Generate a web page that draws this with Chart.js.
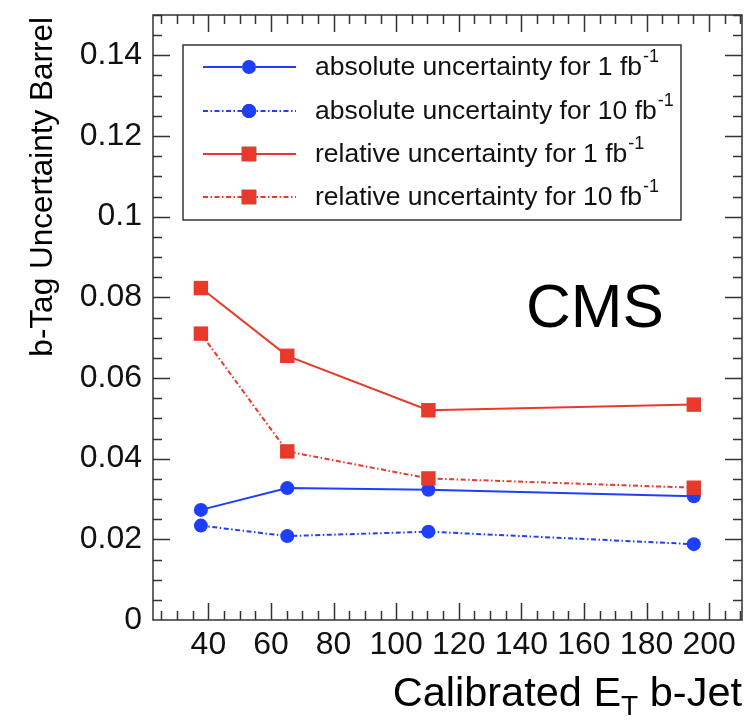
<!DOCTYPE html>
<html>
<head>
<meta charset="utf-8">
<script src="https://cdn.jsdelivr.net/npm/chart.js@4"></script>
<style>
  html, body { margin: 0; padding: 0; background: #fff; }
  #wrap { width: 753px; height: 720px; }
</style>
</head>
<body>
<div id="wrap"><canvas id="c" width="753" height="720"></canvas></div>
<script>
// b-tag uncertainty vs calibrated E_T (barrel)
const etBins      = [37.6, 65.2, 110.3, 195.1];
const absUnc1fb   = [0.0273, 0.0327, 0.0323, 0.0307];
const absUnc10fb  = [0.0234, 0.0208, 0.0219, 0.0188];
const relUnc1fb   = [0.0823, 0.0655, 0.0520, 0.0534];
const relUnc10fb  = [0.0710, 0.0418, 0.0351, 0.0328];

const xTicks = [40, 60, 80, 100, 120, 140, 160, 180, 200];
const yTicks = [0, 0.02, 0.04, 0.06, 0.08, 0.1, 0.12, 0.14];
const yTickLabels = ["0", "0.02", "0.04", "0.06", "0.08", "0.1", "0.12", "0.14"];
const seriesNames = [
  "absolute uncertainty for 1 fb",
  "absolute uncertainty for 10 fb",
  "relative uncertainty for 1 fb",
  "relative uncertainty for 10 fb",
];

const FONT = "'Liberation Sans', Arial, Helvetica, sans-serif";
const BLUE = "#1f3fff";
const RED = "#e8392a";
const DASH = [5, 2.5, 1.5, 2.5];

const pts = (ys) => etBins.map((x, i) => ({ x, y: ys[i] }));

function series(label, ys, color, dashed, style, r, order) {
  return {
    label, data: pts(ys), order,
    borderColor: color, backgroundColor: color,
    borderWidth: 2, borderDash: dashed ? DASH : [],
    pointStyle: style, pointRadius: r, pointHoverRadius: r,
    pointBackgroundColor: color, pointBorderWidth: 0,
    tension: 0, fill: false,
  };
}

// ROOT-like frame: ticks inside on all four sides
const rootFrame = {
  id: "rootFrame",
  beforeDatasetsDraw(chart) {
    const { ctx, chartArea: a, scales: { x, y } } = chart;
    ctx.save();
    ctx.strokeStyle = "#333";
    ctx.lineWidth = 1.5;
    ctx.strokeRect(a.left, a.top, a.right - a.left, a.bottom - a.top);
    ctx.beginPath();
    for (let v = 25; v <= 210; v += 5) {
      const px = Math.round(x.getPixelForValue(v)) + 0.5;
      const len = v % 20 === 0 ? 17 : 9;
      ctx.moveTo(px, a.bottom); ctx.lineTo(px, a.bottom - len);
      ctx.moveTo(px, a.top); ctx.lineTo(px, a.top + len);
    }
    for (let k = 1; k <= 30; k++) {
      const v = k * 0.005;
      const py = Math.round(y.getPixelForValue(v)) + 0.5;
      const len = k % 4 === 0 ? 17 : 9;
      ctx.moveTo(a.left, py); ctx.lineTo(a.left + len, py);
      ctx.moveTo(a.right, py); ctx.lineTo(a.right - len, py);
    }
    ctx.stroke();
    ctx.restore();
  },
  afterDatasetsDraw(chart) {
    const { ctx } = chart;
    const ds = chart.data.datasets;
    // legend box
    const bx = 183, by = 45, bw = 498, bh = 175;
    ctx.save();
    ctx.fillStyle = "#fff";
    ctx.fillRect(bx, by, bw, bh);
    ctx.strokeStyle = "#333";
    ctx.lineWidth = 1.5;
    ctx.strokeRect(bx, by, bw, bh);
    const rows = [67, 111, 154, 197];
    rows.forEach((ry, i) => {
      const d = ds[i];
      ctx.strokeStyle = d.borderColor;
      ctx.lineWidth = 2;
      ctx.setLineDash(d.borderDash);
      ctx.beginPath(); ctx.moveTo(203, ry); ctx.lineTo(296, ry); ctx.stroke();
      ctx.setLineDash([]);
      Chart.helpers.drawPoint(ctx, {
        pointStyle: d.pointStyle, radius: d.pointRadius, borderWidth: 0, rotation: 0,
      }, 249, ry);
      ctx.fillStyle = d.borderColor;
      ctx.fill();
      ctx.fillStyle = "#111";
      ctx.font = "26.5px " + FONT;
      ctx.textBaseline = "middle";
      ctx.textAlign = "left";
      const t = seriesNames[i];
      ctx.fillText(t, 315, ry + 1);
      const w = ctx.measureText(t).width;
      ctx.font = "18px " + FONT;
      ctx.fillText("-1", 315 + w + 1, ry - 10);
    });
    ctx.restore();
  },
  afterDraw(chart) {
    const { ctx } = chart;
    ctx.save();
    ctx.fillStyle = "#000";
    ctx.textBaseline = "alphabetic";
    // CMS label
    ctx.font = "62px " + FONT;
    ctx.textAlign = "left";
    ctx.fillText("CMS", 526, 327);
    // y title, right-aligned at top of axis
    ctx.save();
    ctx.translate(52, 17);
    ctx.rotate(-Math.PI / 2);
    ctx.textAlign = "right";
    ctx.font = "31.5px " + FONT;
    ctx.fillText("b-Tag Uncertainty Barrel", 0, 0);
    ctx.restore();
    // x title, right-aligned with subscript T
    const big = "41.5px " + FONT, sub = "28px " + FONT;
    const base = 706;
    ctx.textAlign = "left";
    ctx.font = big;
    const w3 = ctx.measureText(" b-Jet").width;
    const w1 = ctx.measureText("Calibrated E").width;
    ctx.font = sub;
    const w2 = ctx.measureText("T").width;
    let x0 = 742 - w3 - w2 - w1;
    ctx.font = big;
    ctx.fillText("Calibrated E", x0, base);
    ctx.font = sub;
    ctx.fillText("T", x0 + w1, base + 9);
    ctx.font = big;
    ctx.fillText(" b-Jet", x0 + w1 + w2, base);
    ctx.restore();
  },
};

new Chart(document.getElementById("c"), {
  type: "line",
  data: {
    datasets: [
      series(seriesNames[0], absUnc1fb, BLUE, false, "circle", 7, 3),
      series(seriesNames[1], absUnc10fb, BLUE, true, "circle", 7, 2),
      series(seriesNames[2], relUnc1fb, RED, false, "rect", 10.2, 1),
      series(seriesNames[3], relUnc10fb, RED, true, "rect", 10.2, 0),
    ],
  },
  options: {
    responsive: false,
    animation: false,
    devicePixelRatio: 1,
    layout: { padding: { left: 0, right: 11, top: 15, bottom: 0 } },
    plugins: { legend: { display: false }, tooltip: { enabled: false } },
    scales: {
      x: {
        type: "linear", min: 22.3, max: 210.5,
        grid: { display: false }, border: { display: false },
        afterBuildTicks: (s) => { s.ticks = xTicks.map(v => ({ value: v })); },
        afterFit: (s) => { s.height = 100; s.paddingLeft = 0; s.paddingRight = 0; },
        ticks: {
          color: "#111", padding: 1, maxRotation: 0, autoSkip: false,
          font: { family: FONT, size: 32, lineHeight: 1 },
        },
      },
      y: {
        type: "linear", min: 0, max: 0.15,
        grid: { display: false }, border: { display: false },
        afterBuildTicks: (s) => { s.ticks = yTicks.map(v => ({ value: v })); },
        afterFit: (s) => { s.width = 153; s.paddingTop = 0; s.paddingBottom = 0; },
        ticks: {
          color: "#111", padding: 3, autoSkip: false,
          font: { family: FONT, size: 32 },
          callback: (v) => yTickLabels[yTicks.indexOf(v)] ?? "",
        },
      },
    },
  },
  plugins: [rootFrame],
});
</script>
</body>
</html>
